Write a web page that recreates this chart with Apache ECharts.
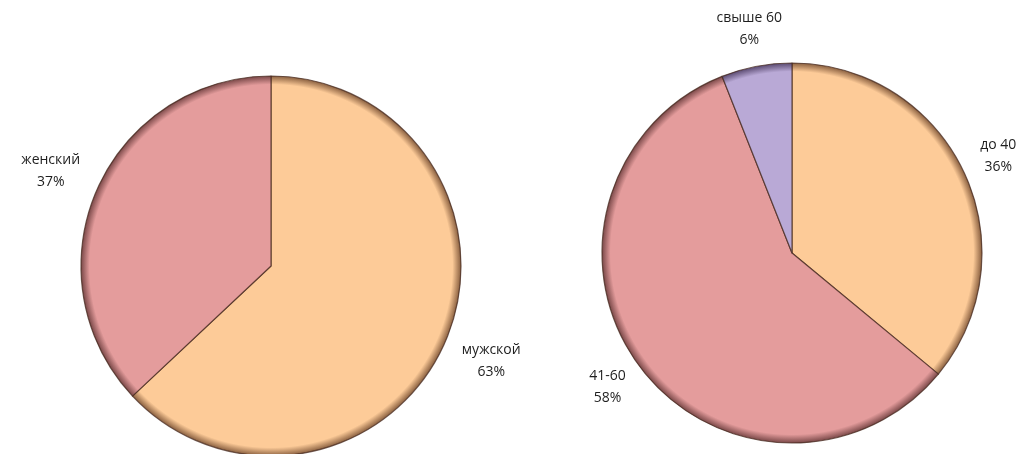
<!DOCTYPE html>
<html><head><meta charset="utf-8">
<script src="https://cdn.jsdelivr.net/npm/echarts@6/dist/echarts.min.js"></script>
<style>html,body{margin:0;padding:0;background:#fff}#c{width:1026px;height:454px}</style>
</head><body><div id="c"></div>
<script>
// Data
const genderLabels = ['мужской', 'женский'];
const genderValues = [63, 37];
const ageLabels = ['до 40', '41-60', 'свыше 60'];
const ageValues = [36, 58, 6];

const COLORS = {
  'мужской': ['#FDCB98', '#8a6040'],
  'женский': ['#E49C9C', '#7a4848'],
  'до 40': ['#FDCB98', '#8a6040'],
  '41-60': ['#E49C9C', '#7a4848'],
  'свыше 60': ['#B9A9D6', '#5a4a70']
};

const pies = [
  {labels: genderLabels, values: genderValues, cx: 271, cy: 266, r: 190, lr: 240},
  {labels: ageLabels, values: ageValues, cx: 792, cy: 253, r: 190, lr: 228}
];

function fill(name, p) {
  const c = COLORS[name];
  return {
    type: 'radial', x: p.cx, y: p.cy, r: p.r, global: true,
    colorStops: [
      {offset: 0, color: c[0]},
      {offset: 0.955, color: c[0]},
      {offset: 1, color: c[1]}
    ]
  };
}

const chart = echarts.init(document.getElementById('c'), null, {renderer: 'canvas'});
const series = pies.map((p, si) => ({
  type: 'pie',
  center: [p.cx, p.cy],
  radius: [0, p.r],
  startAngle: 90,
  clockwise: true,
  silent: true,
  animation: false,
  avoidLabelOverlap: false,
  data: p.labels.map((n, i) => ({
    name: n, value: p.values[i],
    itemStyle: {color: fill(n, p), borderColor: 'rgba(70,40,30,0.75)', borderWidth: 1.2}
  })),
  label: {
    show: true, position: 'outside', overflow: 'none', width: 120,
    formatter: (d) => d.name + '\n' + Math.round(d.percent) + '%',
    fontFamily: 'Open Sans', fontSize: 14, color: '#1e1e1e', lineHeight: 22, align: 'center'
  },
  labelLine: {show: false},
  labelLayout: function (params) {
    const total = p.values.reduce((a, b) => a + b, 0);
    let before = 0;
    for (let k = 0; k < params.dataIndex; k++) before += p.values[k];
    const mid = (before + p.values[params.dataIndex] / 2) / total * 2 * Math.PI;
    return {
      x: p.cx + p.lr * Math.sin(mid),
      y: p.cy - p.lr * Math.cos(mid),
      align: 'center', verticalAlign: 'middle'
    };
  }
}));

chart.setOption({backgroundColor: '#fff', animation: false, series: series});
</script></body></html>
